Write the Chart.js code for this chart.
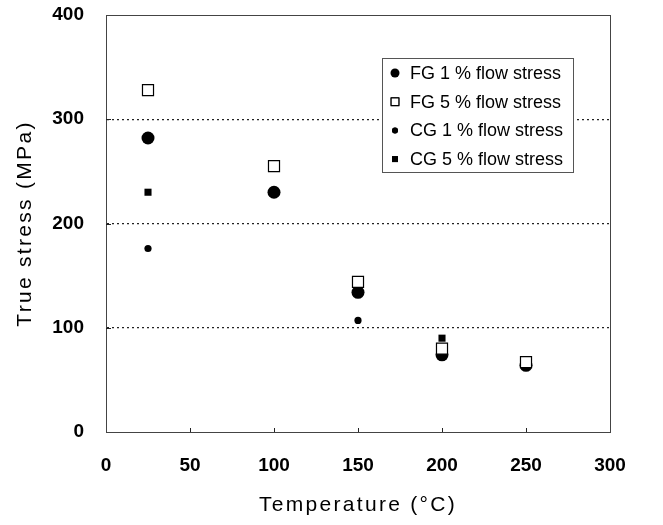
<!DOCTYPE html>
<html>
<head>
<meta charset="utf-8">
<script src="https://cdn.jsdelivr.net/npm/chart.js@4/dist/chart.umd.min.js"></script>
<style>
  html, body { margin: 0; padding: 0; background: #fff; }
  #wrap { width: 663px; height: 525px; }
</style>
</head>
<body>
<div id="wrap"><canvas id="c" width="663" height="525"></canvas></div>
<script>
// values
const fgTemp = [25, 100, 150, 200, 250];
const fg1Stress = [282, 230, 134, 74, 64];
const fg5Stress = [328, 255, 144, 80, 67];
const cg1Temp = [25, 150];
const cg1Stress = [176, 107];
const cg5Temp = [25, 200];
const cg5Stress = [230, 90];

const seriesNames = ['FG 1 % flow stress', 'FG 5 % flow stress', 'CG 1 % flow stress', 'CG 5 % flow stress'];
const xTicks = [0, 50, 100, 150, 200, 250, 300];
const yTicks = [0, 100, 200, 300, 400];
const xTitle = 'Temperature (°C)';
const yTitle = 'True stress (MPa)';

const pts = (xs, ys) => xs.map((x, i) => ({ x, y: ys[i] }));

/* frame, inward ticks and the boxed legend */
const framePlugin = {
  id: 'frame',
  beforeDraw(chart) { chart.ctx.letterSpacing = '2.3px'; },
  beforeDatasetsDraw(chart) { chart.ctx.letterSpacing = '0px'; },
  afterDraw(chart) {
    const { ctx, chartArea: a, scales: { x, y } } = chart;
    ctx.save();
    ctx.letterSpacing = '0px';
    ctx.strokeStyle = '#444';
    ctx.lineWidth = 1;
    ctx.strokeRect(a.left + 0.5, a.top + 0.5, a.right - a.left, a.bottom - a.top);
    ctx.strokeStyle = '#222';
    ctx.beginPath();
    xTicks.slice(1, -1).forEach(v => {
      const px = Math.round(x.getPixelForValue(v)) + 0.5;
      ctx.moveTo(px, a.bottom); ctx.lineTo(px, a.bottom - 4);
    });
    yTicks.slice(1, -1).forEach(v => {
      const py = Math.round(y.getPixelForValue(v)) + 0.5;
      ctx.moveTo(a.left, py); ctx.lineTo(a.left + 5, py);
    });
    ctx.stroke();

    // legend box
    const bx = 382, by = 58, bw = 191, bh = 114, rowH = 28.7;
    ctx.fillStyle = '#fff';
    ctx.fillRect(bx, by, bw, bh);
    ctx.strokeStyle = '#555';
    ctx.strokeRect(bx + 0.5, by + 0.5, bw, bh);
    ctx.font = '18px "Liberation Sans", Arial, sans-serif';
    ctx.textBaseline = 'middle';
    const legendRadius = [4.5, 5.5, 3, 4.2];
    chart.data.datasets.forEach((ds, i) => {
      const cy = by + 15 + i * rowH;
      Chart.helpers.drawPoint(ctx, {
        pointStyle: ds.pointStyle, radius: legendRadius[i], rotation: 0, borderWidth: ds.borderWidth
      }, bx + 13, cy);
      ctx.fillStyle = ds.backgroundColor;
      ctx.strokeStyle = ds.borderColor;
      ctx.lineWidth = ds.borderWidth;
      ctx.fill();
      if (ds.borderWidth) ctx.stroke();
      ctx.fillStyle = '#000';
      ctx.fillText(ds.label, bx + 28, cy + 1);
    });
    ctx.restore();
  }
};

new Chart(document.getElementById('c'), {
  type: 'scatter',
  data: {
    datasets: [
      { label: seriesNames[0], data: pts(fgTemp, fg1Stress), pointStyle: 'circle', pointRadius: 6.5,
        backgroundColor: '#000', borderColor: '#000', borderWidth: 0, order: 3 },
      { label: seriesNames[1], data: pts(fgTemp, fg5Stress), pointStyle: 'rect', pointRadius: 7.8,
        backgroundColor: '#fff', borderColor: '#000', borderWidth: 1.2, order: 2 },
      { label: seriesNames[2], data: pts(cg1Temp, cg1Stress), pointStyle: 'circle', pointRadius: 3.6,
        backgroundColor: '#000', borderColor: '#000', borderWidth: 0, order: 1 },
      { label: seriesNames[3], data: pts(cg5Temp, cg5Stress), pointStyle: 'rect', pointRadius: 5,
        backgroundColor: '#000', borderColor: '#000', borderWidth: 0, order: 0 },
    ]
  },
  options: {
    responsive: false,
    animation: false,
    layout: { padding: { top: 15, right: 53, left: 0, bottom: 0 } },
    plugins: { legend: { display: false }, tooltip: { enabled: false } },
    scales: {
      x: {
        type: 'linear', min: 0, max: 300,
        afterBuildTicks: (s) => { s.ticks = xTicks.map(v => ({ value: v })); },
        afterFit: (s) => { s.height = 93; s.paddingLeft = 0; s.paddingRight = 0; },
        grid: { display: false, drawTicks: false },
        border: { color: '#333', width: 1 },
        ticks: { padding: 22, color: '#000', z: 1, font: { family: '"Liberation Sans", Arial, sans-serif', size: 19, weight: 'bold' } },
        title: { display: true, text: xTitle, color: '#000', padding: { top: 0, bottom: 9 },
          font: { family: '"Liberation Sans", Arial, sans-serif', size: 21, lineHeight: 1 } }
      },
      y: {
        type: 'linear', min: 0, max: 400,
        afterBuildTicks: (s) => { s.ticks = yTicks.map(v => ({ value: v })); },
        afterFit: (s) => { s.width = 106; s.paddingTop = 0; s.paddingBottom = 0; },
        grid: {
          drawTicks: false, lineWidth: 1.3,
          color: (c) => (c.tick && c.tick.value > 0 && c.tick.value < 400) ? '#222' : 'rgba(0,0,0,0)'
        },
        border: { color: '#222', width: 1, dash: [2, 3] },
        ticks: { padding: 22, color: '#000', z: 1, font: { family: '"Liberation Sans", Arial, sans-serif', size: 19, weight: 'bold' } },
        title: { display: true, text: yTitle, color: '#000', padding: { top: 15, bottom: 0 },
          font: { family: '"Liberation Sans", Arial, sans-serif', size: 21, lineHeight: 1 } }
      }
    }
  },
  plugins: [framePlugin]
});
</script>
</body>
</html>
